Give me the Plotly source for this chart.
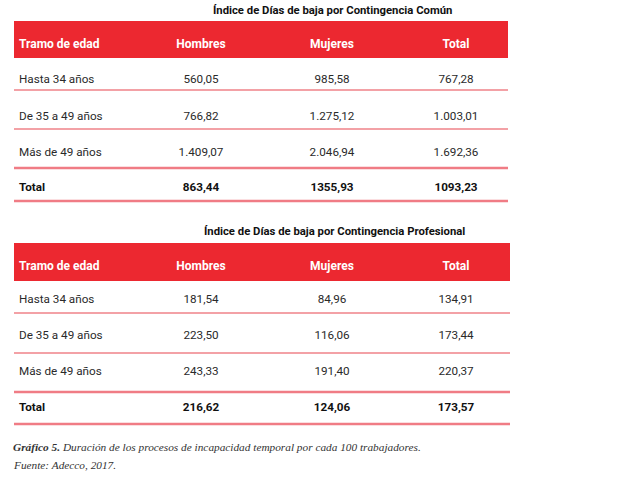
import plotly.graph_objects as go

# ---------------- data ----------------
headers = ["Tramo de edad", "Hombres", "Mujeres", "Total"]
age_groups = ["Hasta 34 años", "De 35 a 49 años", "Más de 49 años"]
total_label = "Total"

title_comun = "Índice de Días de baja por Contingencia Común"
comun_hombres = [560.05, 766.82, 1409.07]
comun_mujeres = [985.58, 1275.12, 2046.94]
comun_total = [767.28, 1003.01, 1692.36]
comun_totales = [863.44, 1355.93, 1093.23]

title_prof = "Índice de Días de baja por Contingencia Profesional"
prof_hombres = [181.54, 223.50, 243.33]
prof_mujeres = [84.96, 116.06, 191.40]
prof_total = [134.91, 173.44, 220.37]
prof_totales = [216.62, 124.06, 173.57]

caption_bold = "Gráfico 5."
caption_text = " Duración de los procesos de incapacidad temporal por cada 100 trabajadores."
source_text = "Fuente: Adecco, 2017."


def es(v, thousands=True):
    s = f"{v:,.2f}" if thousands else f"{v:.2f}"
    return s.replace(",", "X").replace(".", ",").replace("X", ".")


# ---------------- style / layout ----------------
W, H = 617, 479
RED = "#ec2830"
THIN = "#e8454e"
THICK = "#f07c85"
FONT = "Roboto, sans-serif"
SERIF = "Liberation Serif, serif"
BODY_SIZE = 11.7
HEAD_SIZE = 12
TITLE_SIZE = 11.3
CAPTION_SIZE = 11.3

col_left = 19
col_centers = [201, 332, 456]

tables = [
    dict(title=title_comun, title_y=10, title_x=332, band=(21, 58), band_x=(14, 508),
         head_y=45, rows_y=[80, 117, 153, 188], lines=[90, 129, 168, 201],
         cols=[comun_hombres, comun_mujeres, comun_total], tot=comun_totales),
    dict(title=title_prof, title_y=231, title_x=334, band=(243, 281), band_x=(14, 510),
         head_y=267, rows_y=[300, 336, 372, 408], lines=[313, 353, 392, 424],
         cols=[prof_hombres, prof_mujeres, prof_total], tot=prof_totales),
]

fig = go.Figure()
shapes = []
annotations = []


def txt(xs, ys, labels, pos, size, color, bold=False):
    fig.add_trace(go.Scatter(x=xs, y=ys, mode="text", text=labels, textposition=pos,
                             textfont=dict(family=FONT, size=size, color=color,
                                           weight="bold" if bold else "normal"),
                             hoverinfo="skip", showlegend=False, cliponaxis=False))


for t in tables:
    shapes.append(dict(type="rect", xref="x", yref="y", x0=t["band_x"][0], x1=t["band_x"][1],
                       y0=t["band"][0], y1=t["band"][1], fillcolor=RED, line_width=0, layer="below"))
    for i, ly in enumerate(t["lines"]):
        thick = i >= 2
        shapes.append(dict(type="line", xref="x", yref="y", x0=t["band_x"][0], x1=t["band_x"][1],
                           y0=ly, y1=ly, line=dict(color=THICK if thick else THIN,
                                                   width=2.5 if thick else 1.2), layer="below"))
    annotations.append(dict(x=t["title_x"], y=t["title_y"], xref="x", yref="y", text=t["title"],
                            showarrow=False,
                            font=dict(family=FONT, size=TITLE_SIZE, color="#111111", weight="bold"),
                            xanchor="center", yanchor="middle"))
    # header
    txt([col_left], [t["head_y"]], [headers[0]], "middle right", HEAD_SIZE, "white", True)
    txt(col_centers, [t["head_y"]] * 3, headers[1:], "middle center", HEAD_SIZE, "white", True)
    # row labels
    txt([col_left] * 3, t["rows_y"][:3], age_groups, "middle right", BODY_SIZE, "#2a2a2a")
    txt([col_left], [t["rows_y"][3]], [total_label], "middle right", BODY_SIZE, "#111111", True)
    # values
    for cx, vals, tv in zip(col_centers, t["cols"], t["tot"]):
        txt([cx] * 3, t["rows_y"][:3], [es(v) for v in vals], "middle center", BODY_SIZE, "#2a2a2a")
        txt([cx], [t["rows_y"][3]], [es(tv, thousands=False)], "middle center", BODY_SIZE,
            "#111111", True)

annotations.append(dict(x=11, y=447, xref="x", yref="y",
                        text=f"<b><i>{caption_bold}</i></b><i>{caption_text}</i>",
                        showarrow=False, font=dict(family=SERIF, size=CAPTION_SIZE, color="#333333"),
                        xanchor="left", yanchor="middle"))
annotations.append(dict(x=11, y=465, xref="x", yref="y", text=f"<i>{source_text}</i>",
                        showarrow=False, font=dict(family=SERIF, size=CAPTION_SIZE, color="#333333"),
                        xanchor="left", yanchor="middle"))

fig.update_layout(
    width=W, height=H, margin=dict(l=0, r=0, t=0, b=0),
    paper_bgcolor="white", plot_bgcolor="white",
    xaxis=dict(range=[0, W], visible=False, fixedrange=True),
    yaxis=dict(range=[H, 0], visible=False, fixedrange=True),
    shapes=shapes, annotations=annotations,
)

fig.write_html("out.html", config={"displayModeBar": False},
               post_script="document.body.style.margin='0';document.body.style.overflow='hidden';")
